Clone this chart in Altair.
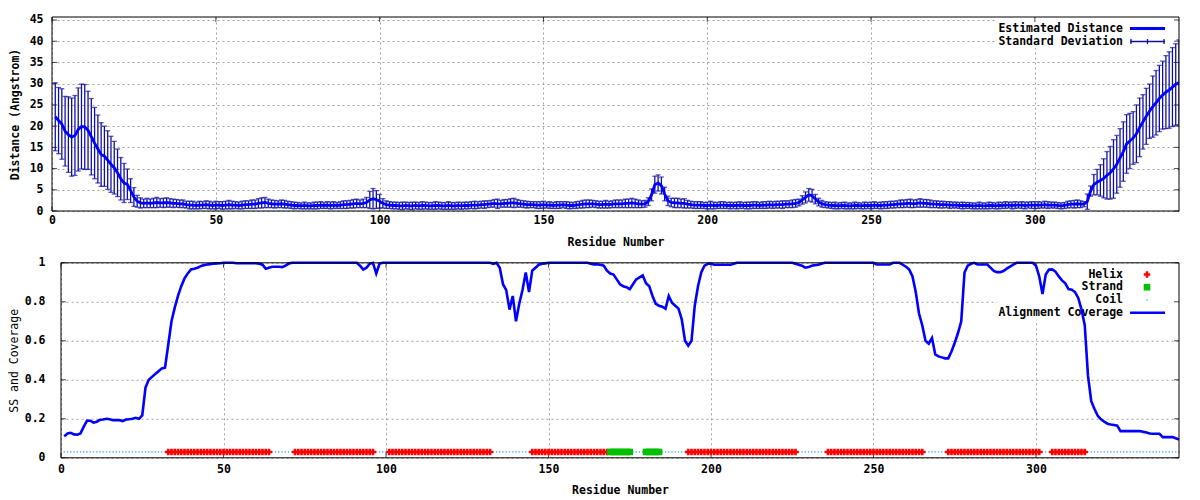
import altair as alt
import pandas as pd

# ---------------- data ----------------
residues = list(range(1, 345))

est_distance = [
    # 1-28
    22.2, 21.3, 20.5, 18.8, 18.0, 17.4, 17.8, 19.2, 19.9, 19.8, 19.0, 17.5, 16.0, 14.6,
    13.3, 12.9, 12.0, 11.0, 10.2, 9.0, 7.6, 6.6, 6.3, 4.8, 3.3, 2.3, 1.9, 1.8,
    # 29-40
    1.9, 1.8, 1.9, 2.0, 1.9, 1.9, 2.0, 1.9, 1.8, 1.8, 1.7, 1.7,
    # 41-62
    1.5, 1.4, 1.4, 1.3, 1.4, 1.4, 1.5, 1.4, 1.3, 1.4, 1.4, 1.3, 1.4, 1.5, 1.4, 1.4, 1.3, 1.4, 1.5, 1.5, 1.6, 1.6,
    # 63-72
    1.8, 1.9, 2.0, 1.8, 1.7, 1.6, 1.6, 1.7, 1.6, 1.5,
    # 73-92
    1.4, 1.3, 1.3, 1.2, 1.3, 1.2, 1.2, 1.3, 1.3, 1.4, 1.3, 1.4, 1.3, 1.4, 1.3, 1.4, 1.5, 1.5, 1.6, 1.7,
    # 93-104
    1.8, 1.7, 1.8, 2.0, 2.6, 2.9, 2.7, 2.3, 1.8, 1.5, 1.4, 1.3,
    # 105-132
    1.3, 1.2, 1.2, 1.3, 1.2, 1.2, 1.3, 1.2, 1.3, 1.3, 1.2, 1.2, 1.3, 1.3, 1.2, 1.2, 1.3, 1.2, 1.2, 1.3,
    1.2, 1.3, 1.3, 1.4, 1.4, 1.4, 1.5, 1.5,
    # 133-146
    1.6, 1.7, 1.8, 1.7, 1.7, 1.8, 1.8, 1.9, 1.9, 1.8, 1.7, 1.6, 1.5, 1.5,
    # 147-160
    1.5, 1.4, 1.4, 1.5, 1.4, 1.4, 1.3, 1.4, 1.4, 1.5, 1.4, 1.3, 1.3, 1.4,
    # 161-181
    1.5, 1.6, 1.7, 1.7, 1.7, 1.6, 1.5, 1.5, 1.6, 1.5, 1.6, 1.7, 1.7, 1.7, 1.8, 1.8, 1.9, 1.8, 1.7, 1.6, 1.7,
    # 182-189
    2.2, 3.8, 6.2, 6.6, 6.0, 4.0, 2.4, 2.0,
    # 190-197
    1.9, 1.9, 1.8, 1.8, 1.6, 1.5, 1.4, 1.4,
    # 198-227
    1.4, 1.3, 1.3, 1.4, 1.3, 1.3, 1.4, 1.4, 1.3, 1.3, 1.3, 1.3, 1.4, 1.3, 1.3, 1.3, 1.4, 1.4, 1.3, 1.4,
    1.4, 1.5, 1.4, 1.5, 1.5, 1.5, 1.6, 1.6, 1.7, 1.8,
    # 228-236
    2.0, 2.6, 3.2, 3.8, 3.6, 2.8, 2.1, 1.7, 1.5,
    # 237-257
    1.4, 1.3, 1.3, 1.2, 1.3, 1.3, 1.2, 1.2, 1.3, 1.3, 1.2, 1.3, 1.3, 1.3, 1.4, 1.3, 1.3, 1.4, 1.4, 1.5, 1.5,
    # 258-270
    1.6, 1.7, 1.7, 1.8, 1.8, 1.7, 1.8, 1.9, 1.8, 1.8, 1.7, 1.6, 1.6,
    # 271-300
    1.5, 1.5, 1.5, 1.4, 1.4, 1.4, 1.3, 1.3, 1.3, 1.3, 1.2, 1.2, 1.3, 1.2, 1.2, 1.3, 1.3, 1.2, 1.3, 1.3,
    1.4, 1.4, 1.3, 1.4, 1.4, 1.4, 1.3, 1.4, 1.4, 1.4,
    # 301-314
    1.4, 1.4, 1.5, 1.4, 1.4, 1.4, 1.3, 1.2, 1.3, 1.5, 1.6, 1.6, 1.7, 1.6,
    # 315-344
    1.6, 2.2, 4.7, 6.2, 6.8, 7.2, 7.7, 8.4, 9.0, 9.9, 11.0, 12.5, 14.0, 15.8, 16.5, 17.2, 18.2, 19.7,
    21.0, 22.3, 23.5, 24.6, 25.5, 26.5, 27.3, 28.0, 28.5, 29.2, 29.8, 30.3,
]

std_dev = [
    # 1-28
    8.0, 7.8, 8.3, 8.2, 8.9, 9.2, 9.4, 9.8, 10.0, 10.0, 9.2, 9.0, 8.4, 8.0,
    7.5, 7.1, 6.9, 6.6, 6.2, 5.6, 5.0, 4.6, 3.6, 2.8, 2.2, 1.4, 1.2, 1.0,
    # 29-40
    1.1, 1.0, 1.1, 1.2, 1.0, 1.1, 1.1, 1.0, 1.0, 0.9, 0.9, 0.9,
    # 41-62
    0.8, 0.9, 0.9, 0.8, 0.9, 0.8, 0.9, 0.9, 0.8, 0.9, 0.8, 0.9, 0.9, 1.0, 0.9, 0.8, 0.8, 0.9, 0.9, 0.9, 1.0, 1.0,
    # 63-72
    1.1, 1.2, 1.2, 1.0, 0.9, 0.9, 0.8, 0.9, 0.9, 0.8,
    # 73-92
    0.8, 0.8, 0.7, 0.7, 0.8, 0.7, 0.7, 0.8, 0.8, 0.8, 0.7, 0.8, 0.8, 0.8, 0.7, 0.8, 0.9, 0.9, 0.9, 1.0,
    # 93-104
    1.0, 0.9, 1.0, 1.2, 2.0, 2.4, 2.1, 1.6, 1.1, 0.9, 0.8, 0.8,
    # 105-132
    0.8, 0.8, 0.9, 0.8, 0.8, 0.9, 0.8, 0.8, 0.9, 0.8, 0.8, 0.8, 0.9, 0.8, 0.8, 0.8, 0.9, 0.8, 0.8, 0.8,
    0.8, 0.8, 0.8, 0.8, 0.9, 0.8, 0.8, 0.9,
    # 133-146
    0.8, 0.8, 0.9, 1.1, 0.8, 0.9, 0.9, 1.0, 1.1, 0.9, 0.8, 0.8, 0.8, 0.7,
    # 147-160
    0.7, 0.8, 0.8, 0.8, 0.7, 0.8, 0.7, 0.8, 0.8, 0.7, 0.8, 0.8, 0.7, 0.8,
    # 161-181
    0.8, 0.9, 0.9, 0.9, 0.8, 0.8, 0.8, 0.8, 0.9, 0.8, 0.8, 0.9, 0.9, 0.9, 1.0, 1.0, 1.1, 1.0, 0.9, 0.8, 0.8,
    # 182-189
    0.9, 1.4, 2.0, 1.9, 2.0, 1.6, 1.1, 1.0,
    # 190-197
    1.1, 1.1, 1.0, 1.1, 0.9, 0.8, 0.8, 0.8,
    # 198-227
    0.8, 0.7, 0.8, 0.9, 0.8, 0.7, 0.8, 0.8, 0.7, 0.8, 0.7, 0.8, 0.8, 0.7, 0.8, 0.8, 0.8, 0.8, 0.7, 0.8,
    0.8, 0.8, 0.8, 0.8, 0.8, 0.9, 0.8, 0.8, 0.9, 0.9,
    # 228-236
    0.8, 1.0, 1.3, 1.5, 1.5, 1.1, 0.9, 0.8, 0.7,
    # 237-257
    0.7, 0.7, 0.8, 0.7, 0.7, 0.8, 0.7, 0.7, 0.8, 0.7, 0.7, 0.8, 0.7, 0.8, 0.8, 0.7, 0.8, 0.8, 0.8, 0.8, 0.8,
    # 258-270
    0.8, 0.9, 0.9, 0.9, 1.0, 0.9, 0.9, 1.0, 0.9, 0.9, 0.9, 0.8, 0.8,
    # 271-300
    0.8, 0.8, 0.7, 0.8, 0.7, 0.7, 0.7, 0.8, 0.7, 0.7, 0.7, 0.7, 0.8, 0.7, 0.7, 0.8, 0.7, 0.7, 0.8, 0.7,
    0.8, 0.7, 0.8, 0.8, 0.7, 0.8, 0.8, 0.7, 0.8, 0.8,
    # 301-314
    0.8, 0.7, 0.8, 0.8, 0.7, 0.7, 0.7, 0.7, 0.7, 0.8, 0.8, 0.9, 0.9, 0.8,
    # 315-344
    0.6, 1.8, 1.2, 2.4, 3.0, 3.7, 4.6, 5.6, 6.2, 6.9, 6.8, 6.9, 7.0, 6.9, 6.5, 6.2, 6.8, 6.9,
    6.4, 6.6, 6.4, 7.2, 7.6, 7.8, 8.0, 8.6, 9.0, 9.3, 9.6, 10.0,
]

coverage = [
    0.11, 0.125, 0.128, 0.12, 0.118, 0.125, 0.16, 0.19, 0.19, 0.18,
    0.185, 0.195, 0.196, 0.2, 0.198, 0.193, 0.193, 0.193, 0.188, 0.196,
    0.198, 0.2, 0.205, 0.2, 0.217, 0.36, 0.4, 0.415, 0.43, 0.444,
    0.458, 0.462, 0.58, 0.7, 0.77, 0.83, 0.88, 0.92, 0.945, 0.966,
    0.97, 0.975, 0.983, 0.988, 0.991, 0.993, 0.996, 0.997, 0.998, 1.0,
    1.0, 1.0, 1.0, 0.998, 0.998, 0.998, 0.998, 0.998, 0.998, 0.998,
    0.995, 0.99, 0.97, 0.975, 0.98, 0.98, 0.98, 0.978, 0.985, 0.995,
    1.0, 1.0, 1.0, 1.0, 1.0, 1.0, 1.0, 1.0, 1.0, 1.0,
    1.0, 1.0, 1.0, 1.0, 1.0, 1.0, 1.0, 1.0, 1.0, 1.0,
    1.0, 0.985, 0.965, 0.975, 0.995, 1.0, 0.945, 0.995, 1.0, 1.0,
    1.0, 1.0, 1.0, 1.0, 1.0, 1.0, 1.0, 1.0, 1.0, 1.0,
    1.0, 1.0, 1.0, 1.0, 1.0, 1.0, 1.0, 1.0, 1.0, 1.0,
    1.0, 1.0, 1.0, 1.0, 1.0, 1.0, 1.0, 1.0, 1.0, 1.0,
    1.0, 1.0, 0.995, 1.0, 0.975, 0.89, 0.86, 0.76, 0.83, 0.70,
    0.79, 0.86, 0.95, 0.85, 0.96, 0.975, 0.99, 0.995, 0.997, 1.0,
    1.0, 1.0, 1.0, 1.0, 1.0, 1.0, 1.0, 1.0, 1.0, 1.0,
    1.0, 1.0, 0.995, 0.992, 0.992, 0.99, 0.985, 0.96, 0.945, 0.94,
    0.915, 0.89, 0.88, 0.875, 0.865, 0.89, 0.915, 0.925, 0.935, 0.895,
    0.88, 0.83, 0.79, 0.78, 0.775, 0.765, 0.83, 0.795, 0.78, 0.765,
    0.71, 0.6, 0.575, 0.6, 0.78, 0.88, 0.95, 0.985, 0.995, 0.995,
    0.99, 0.99, 0.99, 0.99, 0.99, 0.99, 0.995, 1.0, 1.0, 1.0,
    1.0, 1.0, 1.0, 1.0, 1.0, 1.0, 1.0, 1.0, 1.0, 1.0,
    1.0, 1.0, 1.0, 1.0, 1.0, 0.995, 0.99, 0.985, 0.975, 0.978,
    0.985, 0.988, 0.99, 0.995, 1.0, 1.0, 1.0, 1.0, 1.0, 1.0,
    1.0, 1.0, 1.0, 1.0, 1.0, 1.0, 1.0, 1.0, 1.0, 1.0,
    0.991, 0.991, 0.991, 0.991, 0.991, 1.0, 1.0, 1.0, 0.99, 0.98,
    0.965, 0.93, 0.85, 0.74, 0.68, 0.6, 0.585, 0.615, 0.53, 0.52,
    0.515, 0.51, 0.51, 0.545, 0.59, 0.64, 0.7, 0.95, 0.985, 0.995,
    1.0, 0.991, 0.991, 0.991, 0.991, 0.975, 0.958, 0.952, 0.952, 0.958,
    0.97, 0.98, 0.99, 1.0, 1.0, 1.0, 1.0, 1.0, 1.0, 0.985,
    0.93, 0.84, 0.94, 0.965, 0.966, 0.955, 0.93, 0.91, 0.895, 0.865,
    0.862, 0.85, 0.82, 0.76, 0.68, 0.42, 0.29, 0.25, 0.215, 0.197,
    0.185, 0.175, 0.171, 0.168, 0.165, 0.137, 0.137, 0.137, 0.137, 0.137,
    0.137, 0.137, 0.133, 0.13, 0.125, 0.123, 0.123, 0.123, 0.106, 0.106,
    0.106, 0.106, 0.1, 0.094,
]

helix_ranges = [(33, 64), (72, 96), (101, 132), (145, 168), (193, 226), (236, 265), (273, 301), (305, 315)]
strand_ranges = [(169, 175), (180, 184)]
ss_level = 0.03

x_ticks = [0, 50, 100, 150, 200, 250, 300]
dist_ticks = [0, 5, 10, 15, 20, 25, 30, 35, 40, 45]
cov_ticks = [0, 0.2, 0.4, 0.6, 0.8, 1.0]

assert len(est_distance) == len(residues) == len(std_dev) == len(coverage)

# ---------------- tables ----------------
dist_df = pd.DataFrame({"residue": residues, "dist": est_distance, "sd": std_dev})
dist_df["lo"] = (dist_df["dist"] - dist_df["sd"]).clip(lower=0)
dist_df["hi"] = dist_df["dist"] + dist_df["sd"]


def ss_of(r):
    if any(a <= r <= b for a, b in helix_ranges):
        return "Helix"
    if any(a <= r <= b for a, b in strand_ranges):
        return "Strand"
    return "Coil"


cov_df = pd.DataFrame({"residue": residues, "coverage": coverage})
ss_df = pd.DataFrame({"residue": residues, "ss": [ss_of(r) for r in residues], "level": ss_level})

one = pd.DataFrame({"k": [0]})
xt_df = pd.DataFrame({"t": x_ticks})
dt_df = pd.DataFrame({"t": dist_ticks})
ct_df = pd.DataFrame({"t": cov_ticks})

FONT = "DejaVu Sans Mono"
FS = 11.5
W, H1, H2 = 1127, 194, 195
INSET = 9  # lower panel's frame starts further right than the upper one

x1 = alt.Scale(domain=[0, 344], nice=False, zero=False)
y1 = alt.Scale(domain=[0, 45.7], nice=False)
x2 = alt.Scale(domain=[0, 344], nice=False, zero=False, range=[INSET, W])
y2 = alt.Scale(domain=[0, 1], nice=False)

grid_kw = dict(grid=True, gridColor="#a0a0a0", gridDash=[2, 3], gridWidth=1,
               ticks=False, domain=False, labelFont=FONT, labelFontSize=FS,
               labelFontWeight="bold", labelColor="black", titleFont=FONT,
               titleFontSize=FS, titleColor="black")

ax_x1 = alt.Axis(values=x_ticks, title="Residue Number", labelPadding=3.5, titlePadding=10,
                 labelFlush=False, titleFontWeight="bold", **grid_kw)
ax_y1 = alt.Axis(values=dist_ticks, title="Distance (Angstrom)", labelPadding=9, titlePadding=9,
                 minExtent=23, maxExtent=23, format="~g", titleFontWeight="bold", **grid_kw)
ax_x2 = alt.Axis(values=x_ticks, title="Residue Number", labelPadding=5.2, titlePadding=10,
                 labelFlush=False, titleFontWeight="bold", **grid_kw)
ax_y2 = alt.Axis(values=cov_ticks, title="SS and Coverage", labelPadding=7, titlePadding=4.7,
                 minExtent=28, maxExtent=28, format="~g", titleFontWeight="normal", **grid_kw)


def text_item(label, x, y, bold=True):
    return alt.Chart(one).mark_text(
        text=label, align="right", baseline="middle", font=FONT, fontSize=FS,
        fontWeight="bold" if bold else "normal", color="black"
    ).encode(x=alt.value(x), y=alt.value(y))


def hrule(xa, xb, y, color, width):
    return alt.Chart(one).mark_rule(color=color, strokeWidth=width).encode(
        x=alt.value(xa), x2=alt.value(xb), y=alt.value(y))


def vrule(x, ya, yb, color, width):
    return alt.Chart(one).mark_rule(color=color, strokeWidth=width).encode(
        x=alt.value(x), y=alt.value(ya), y2=alt.value(yb))


def rect(xa, xb, ya, yb):
    return alt.Chart(one).mark_rect(color="white").encode(
        x=alt.value(xa), x2=alt.value(xb), y=alt.value(ya), y2=alt.value(yb))


def inner_ticks(xscale, yscale, xaxis, yaxis, left, w, h, xdf, ydf):
    tx = alt.X("t:Q", scale=xscale, axis=xaxis)
    ty = alt.Y("t:Q", scale=yscale, axis=yaxis)
    tk = dict(color="black", size=5, thickness=1)
    return [
        alt.Chart(xdf).mark_tick(orient="vertical", **tk).encode(x=tx, y=alt.value(2.5)),
        alt.Chart(xdf).mark_tick(orient="vertical", **tk).encode(x=tx, y=alt.value(h - 2.5)),
        alt.Chart(ydf).mark_tick(orient="horizontal", **tk).encode(y=ty, x=alt.value(left + 2.5)),
        alt.Chart(ydf).mark_tick(orient="horizontal", **tk).encode(y=ty, x=alt.value(w - 2.5)),
    ]


def frame(left, w, h):
    return alt.Chart(one).mark_rect(fill=None, stroke="black", strokeWidth=1).encode(
        x=alt.value(left), x2=alt.value(w), y=alt.value(0), y2=alt.value(h))


LINE_BLUE = "#0000ff"
ERR_BLUE = "#1010a0"

# ---------------- top panel ----------------
base1 = alt.Chart(dist_df)
X1 = alt.X("residue:Q", scale=x1, axis=ax_x1)
err_rules = base1.mark_rule(color=ERR_BLUE, strokeWidth=1.3, clip=True).encode(
    x=X1, y=alt.Y("lo:Q", scale=y1, axis=ax_y1), y2="hi:Q")
caps_lo = base1.mark_tick(orient="horizontal", color=ERR_BLUE, size=5, thickness=1.3, clip=True).encode(
    x=X1, y=alt.Y("lo:Q", scale=y1, axis=ax_y1))
caps_hi = base1.mark_tick(orient="horizontal", color=ERR_BLUE, size=5, thickness=1.3, clip=True).encode(
    x=X1, y=alt.Y("hi:Q", scale=y1, axis=ax_y1))
dist_line = base1.mark_line(color=LINE_BLUE, strokeWidth=2.8, clip=True).encode(
    x=X1, y=alt.Y("dist:Q", scale=y1, axis=ax_y1))

top_layers = [rect(945, W - 1, 1, 31)] + inner_ticks(x1, y1, ax_x1, ax_y1, 0, W, H1, xt_df, dt_df) + [
    err_rules, caps_lo, caps_hi, dist_line,
    text_item("Estimated Distance", 1071, 11.5),
    text_item("Standard Deviation", 1071, 24.5),
    hrule(1078, 1113, 11.5, LINE_BLUE, 2.8),
    hrule(1078, 1113, 24.5, ERR_BLUE, 1.3),
    vrule(1079, 22, 27, ERR_BLUE, 1.3),
    vrule(1095.5, 22, 27, ERR_BLUE, 1.3),
    vrule(1112, 22, 27, ERR_BLUE, 1.3),
    frame(0, W, H1),
]
top = alt.layer(*top_layers).properties(width=W, height=H1)

# ---------------- bottom panel ----------------
X2 = alt.X("residue:Q", scale=x2, axis=ax_x2)
cov_line = alt.Chart(cov_df).mark_line(color=LINE_BLUE, strokeWidth=2.6).encode(
    x=X2, y=alt.Y("coverage:Q", scale=y2, axis=ax_y2))
ssy = alt.Y("level:Q", scale=y2, axis=ax_y2)
coil_pts = alt.Chart(ss_df).transform_filter(alt.datum.ss == "Coil").mark_point(
    shape="square", filled=True, size=1.5, color="#1e90ff", opacity=1).encode(x=X2, y=ssy)
helix_pts = alt.Chart(ss_df).transform_filter(alt.datum.ss == "Helix").mark_point(
    shape="cross", filled=True, size=42, color="#ff0000", opacity=1).encode(x=X2, y=ssy)
strand_pts = alt.Chart(ss_df).transform_filter(alt.datum.ss == "Strand").mark_point(
    shape="square", filled=True, size=44, color="#00c000", opacity=1).encode(x=X2, y=ssy)


def sym(shape, size, color, x, y):
    return alt.Chart(one).mark_point(shape=shape, filled=True, size=size, color=color, opacity=1).encode(
        x=alt.value(x), y=alt.value(y))


bottom_layers = [rect(0, INSET - 0.5, 0, H2 + 0.5), rect(945, W - 1, 1, 57)] + \
    inner_ticks(x2, y2, ax_x2, ax_y2, INSET, W, H2, xt_df, ct_df) + [
    text_item("Helix", 1071, 11.7),
    text_item("Strand", 1071, 24.4),
    text_item("Coil", 1071, 37.4),
    text_item("Alignment Coverage", 1071, 50.0),
    sym("cross", 42, "#ff0000", 1095, 11.7),
    sym("square", 44, "#00c000", 1095, 24.4),
    sym("square", 1.5, "#1e90ff", 1095, 37.4),
    hrule(1078, 1113, 50.0, LINE_BLUE, 2.6),
    coil_pts, helix_pts, strand_pts, cov_line,
    frame(INSET, W, H2),
]
bottom = alt.layer(*bottom_layers).properties(width=W, height=H2)

chart = alt.vconcat(top, bottom, spacing=8.8).properties(
    padding={"left": 0, "top": 5, "right": 5, "bottom": 5},
    background="white",
).configure_view(strokeWidth=0, stroke="transparent")

chart.save("out.html", embed_options={"renderer": "svg", "actions": False})
